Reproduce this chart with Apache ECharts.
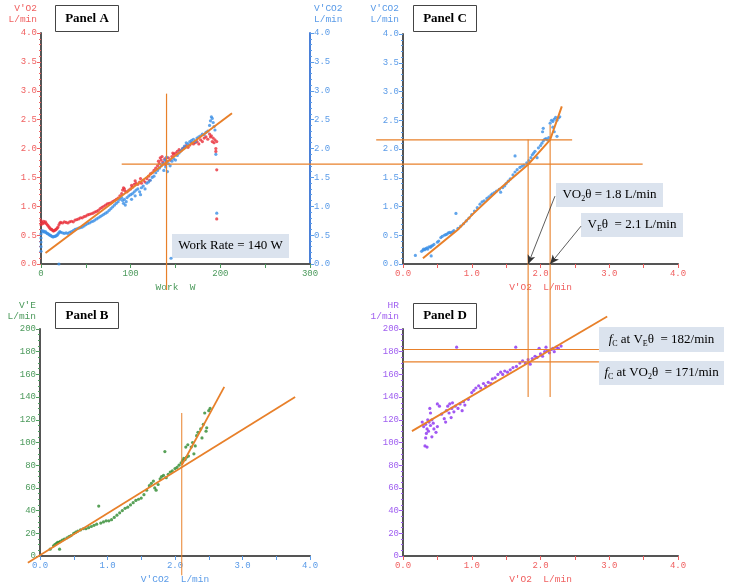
<!DOCTYPE html>
<html><head><meta charset="utf-8">
<script src="https://cdn.jsdelivr.net/npm/echarts@6/dist/echarts.min.js"></script>
<style>html,body{margin:0;padding:0;background:#fff}#c{width:730px;height:587px}</style>
</head><body><div id="c"></div>
<script>
// ---------- Panel A : V'O2 and V'CO2 vs Work rate ----------
const vo2VsWork = [[0,0.75],[0,0.68],[1,0.72],[2,0.7],[3,0.74],[4,0.71],[5,0.73],[6,0.7],[7,0.68],[8,0.66],[9,0.64],[10,0.62],[11,0.6],[12,0.6],[13,0.58],[14,0.57],[15,0.58],[16,0.59],[17,0.6],[18,0.62],[19,0.64],[20,0.68],[21,0.71],[22,0.72],[24,0.71],[26,0.73],[28,0.72],[30,0.71],[32,0.73],[34,0.74],[36,0.73],[38,0.76],[40,0.77],[42,0.78],[44,0.8],[46,0.8],[48,0.82],[50,0.83],[52,0.85],[54,0.86],[56,0.87],[58,0.88],[60,0.9],[62,0.91],[64,0.93],[66,0.96],[68,0.98],[70,1.0],[72,1.02],[74,1.04],[76,1.05],[78,1.06],[80,1.08],[82,1.1],[84,1.12],[86,1.14],[88,1.18],[90,1.22],[91,1.28],[92,1.32],[93,1.3],[94,1.26],[96,1.25],[98,1.28],[100,1.3],[101,1.36],[102,1.33],[104,1.38],[105,1.44],[106,1.4],[108,1.38],[110,1.42],[111,1.48],[112,1.4],[114,1.45],[116,1.42],[118,1.48],[120,1.52],[121,1.45],[122,1.56],[124,1.58],[126,1.62],[128,1.66],[130,1.7],[131,1.78],[132,1.74],[133,1.84],[134,1.8],[135,1.86],[136,1.76],[138,1.82],[139,1.72],[140,1.78],[142,1.84],[144,1.8],[146,1.86],[147,1.92],[148,1.9],[150,1.92],[152,1.95],[154,1.98],[156,1.96],[158,2.0],[160,2.02],[162,2.05],[164,2.02],[166,2.06],[168,2.1],[170,2.08],[172,2.1],[174,2.12],[176,2.08],[178,2.15],[180,2.12],[182,2.18],[184,2.2],[186,2.16],[188,2.25],[189,2.2],[190,2.22],[191,2.12],[192,2.18],[193,2.1],[194,2.15],[195,2.0],[195,1.95],[196,2.12],[196,1.63],[196,0.78]];
const vco2VsWork = [[0,0.22],[0,0.3],[0,0.38],[0,0.45],[0,0.52],[1,0.58],[2,0.56],[3,0.57],[4,0.55],[5,0.56],[6,0.54],[7,0.53],[8,0.52],[9,0.51],[10,0.5],[11,0.49],[12,0.48],[13,0.47],[14,0.47],[15,0.48],[16,0.48],[17,0.49],[18,0.5],[19,0.52],[20,0.54],[21,0.56],[22,0.55],[24,0.54],[26,0.53],[28,0.54],[30,0.53],[32,0.55],[34,0.56],[36,0.58],[38,0.6],[40,0.61],[42,0.62],[44,0.63],[46,0.64],[48,0.66],[50,0.68],[52,0.7],[54,0.71],[56,0.73],[58,0.74],[60,0.76],[62,0.78],[64,0.8],[66,0.82],[68,0.84],[70,0.86],[72,0.88],[74,0.9],[76,0.93],[78,0.96],[80,0.99],[82,1.02],[84,1.05],[86,1.08],[88,1.12],[90,1.15],[91,1.1],[92,1.05],[93,1.12],[94,1.02],[95,1.08],[96,1.15],[98,1.18],[100,1.2],[101,1.12],[102,1.22],[104,1.25],[105,1.18],[106,1.28],[108,1.3],[110,1.25],[111,1.2],[112,1.32],[114,1.35],[116,1.3],[118,1.4],[120,1.42],[122,1.45],[124,1.5],[126,1.52],[128,1.58],[130,1.62],[132,1.66],[134,1.7],[136,1.74],[137,1.62],[138,1.8],[139,1.68],[140,1.85],[141,1.6],[142,1.74],[144,1.7],[146,1.78],[148,1.82],[150,1.8],[152,1.88],[154,1.92],[156,1.96],[158,2.0],[160,2.04],[162,2.1],[164,2.08],[166,2.12],[168,2.14],[170,2.16],[172,2.12],[174,2.18],[176,2.2],[178,2.22],[180,2.25],[182,2.24],[184,2.28],[186,2.3],[188,2.4],[189,2.48],[190,2.55],[191,2.52],[192,2.45],[193,2.38],[194,2.32],[195,1.9],[196,0.88],[20,0.0],[145,0.1]];
const fitA = [[5,0.19],[213,2.61]];

// ---------- Panel C : V'CO2 vs V'O2 ----------
const vco2VsVo2 = [[0.18,0.15],[0.27,0.22],[0.29,0.24],[0.3,0.26],[0.32,0.25],[0.33,0.27],[0.35,0.28],[0.36,0.26],[0.38,0.3],[0.4,0.29],[0.41,0.31],[0.43,0.32],[0.45,0.34],[0.41,0.14],[0.5,0.38],[0.52,0.4],[0.55,0.46],[0.57,0.48],[0.6,0.5],[0.62,0.51],[0.64,0.52],[0.66,0.54],[0.68,0.55],[0.7,0.54],[0.72,0.56],[0.74,0.58],[0.77,0.88],[0.8,0.62],[0.84,0.66],[0.88,0.7],[0.92,0.75],[0.96,0.8],[1.0,0.86],[1.04,0.92],[1.08,0.98],[1.12,1.04],[1.15,1.08],[1.18,1.1],[1.22,1.14],[1.25,1.17],[1.28,1.2],[1.3,1.22],[1.33,1.24],[1.36,1.27],[1.4,1.3],[1.42,1.25],[1.45,1.33],[1.48,1.36],[1.5,1.4],[1.53,1.44],[1.56,1.48],[1.6,1.55],[1.63,1.6],[1.63,1.88],[1.66,1.64],[1.7,1.68],[1.73,1.7],[1.76,1.72],[1.8,1.76],[1.83,1.8],[1.86,1.85],[1.88,1.9],[1.9,1.93],[1.92,1.96],[1.95,1.85],[1.97,2.02],[2.0,2.06],[2.02,2.1],[2.04,2.14],[2.06,2.17],[2.08,2.18],[2.1,2.16],[2.12,2.2],[2.03,2.3],[2.04,2.36],[2.14,2.45],[2.16,2.5],[2.18,2.48],[2.2,2.52],[2.22,2.55],[2.24,2.5],[2.26,2.54],[2.28,2.56],[2.2,2.3],[2.24,2.22],[2.18,2.38]];
const fitC = [[0.29,0.1],[0.8,0.6],[1.0,0.85],[1.4,1.3],[1.82,1.73],[2.14,2.16],[2.31,2.74]];

// ---------- Panel B : V'E vs V'CO2 ----------
const veVsVco2 = [[0.15,6],[0.2,9],[0.22,10],[0.24,11],[0.26,12],[0.28,12],[0.29,6],[0.3,13],[0.33,14],[0.36,15],[0.4,16],[0.43,17],[0.46,18],[0.5,20],[0.53,21],[0.56,22],[0.6,23],[0.64,24],[0.68,24],[0.72,25],[0.76,26],[0.8,27],[0.84,28],[0.87,44],[0.9,29],[0.94,30],[0.98,31],[1.02,31],[1.06,32],[1.1,34],[1.14,36],[1.18,38],[1.22,40],[1.26,42],[1.3,43],[1.34,45],[1.38,47],[1.42,49],[1.46,50],[1.5,51],[1.54,54],[1.58,58],[1.62,62],[1.65,64],[1.68,66],[1.7,60],[1.72,58],[1.75,63],[1.78,68],[1.8,70],[1.83,71],[1.85,92],[1.87,69],[1.9,72],[1.93,74],[1.96,75],[2.0,77],[2.03,78],[2.06,80],[2.09,82],[2.11,84],[2.13,86],[2.15,85],[2.17,87],[2.16,96],[2.19,98],[2.2,88],[2.24,96],[2.26,100],[2.28,90],[2.3,97],[2.32,106],[2.34,109],[2.38,112],[2.42,116],[2.44,126],[2.47,113],[2.5,128],[2.52,130],[2.46,110],[2.4,104]];
const fitB1 = [[-0.18,-6],[3.78,140]];
const fitB2 = [[2.1,80],[2.73,149]];

// ---------- Panel D : HR vs V'O2 ----------
const hrVsVo2 = [[0.3,114],[0.28,118],[0.32,97],[0.35,96],[0.33,104],[0.34,108],[0.35,112],[0.33,116],[0.36,120],[0.38,118],[0.4,115],[0.37,110],[0.42,120],[0.4,126],[0.44,117],[0.45,112],[0.48,109],[0.5,114],[0.39,130],[0.42,105],[0.5,134],[0.53,132],[0.56,125],[0.6,121],[0.62,118],[0.63,128],[0.65,132],[0.67,126],[0.68,134],[0.7,122],[0.71,130],[0.72,135],[0.74,127],[0.76,132],[0.78,184],[0.8,130],[0.83,134],[0.86,128],[0.88,136],[0.9,133],[0.95,138],[1.0,144],[1.03,146],[1.06,148],[1.1,150],[1.13,148],[1.17,152],[1.2,150],[1.24,153],[1.28,152],[1.3,156],[1.34,157],[1.38,160],[1.42,162],[1.45,160],[1.48,163],[1.52,162],[1.56,164],[1.6,166],[1.64,184],[1.65,167],[1.7,170],[1.74,172],[1.78,170],[1.82,173],[1.85,169],[1.88,174],[1.92,176],[1.95,175],[1.98,183],[2.0,178],[2.03,176],[2.06,180],[2.08,184],[2.1,181],[2.13,179],[2.16,182],[2.18,183],[2.2,180],[2.23,184],[2.26,183],[2.3,185]];
const fitD = [[0.13,110],[2.97,211]];

// ---------- thresholds ----------
const workRateTheta = 140;   // W
const vo2Theta = 1.82;       // L/min
const veTheta = 2.14;        // L/min (V'O2)
const vco2AtVo2Theta = 1.73; // L/min
const vco2AtVeTheta = 2.16;  // L/min
const vco2VeBreak = 2.10;    // panel B vertical
const hrAtVeTheta = 182;
const hrAtVo2Theta = 171;

const panelLabels = ['Panel A', 'Panel C', 'Panel B', 'Panel D'];

const RED = '#e8303a', RED_T = '#f06060';
const BLUE = '#3a8ee6', BLUE_T = '#5a9be8';
const GREEN = '#2e8a2e', GREEN_T = '#4c9a5c';
const PURPLE = '#8a2ef0', PURPLE_T = '#a060f0';
const ORANGE = '#e8802a';
const MONO = '"Liberation Mono", "DejaVu Sans Mono", monospace';
const SERIF = '"Liberation Serif", "DejaVu Serif", serif';
const AXIS_DARK = '#555';

function xAx(grid, min, max, interval, minorSplit, color, name, dec) {
  return {
    type: 'value', gridIndex: grid, min, max, interval,
    name, nameLocation: 'middle', nameGap: 18,
    nameTextStyle: {color, fontFamily: MONO, fontSize: 9.5},
    axisLine: {show: true, onZero: false, lineStyle: {color: AXIS_DARK, width: 2}},
    axisTick: {show: true, length: 4, lineStyle: {color}},
    minorTick: {show: true, splitNumber: minorSplit, length: 4, lineStyle: {color}},
    axisLabel: {color, fontFamily: MONO, fontSize: 9, margin: 5,
      formatter: v => v.toFixed(dec)},
    splitLine: {show: false}, minorSplitLine: {show: false}
  };
}
function yAx(grid, min, max, interval, minorSplit, color, name, dec, position, lineColor, gap) {
  const right = position === 'right';
  return {
    type: 'value', gridIndex: grid, min, max, interval, position,
    name, nameLocation: 'end', nameGap: gap,
    nameTextStyle: {color, fontFamily: MONO, fontSize: 9.5, lineHeight: 11,
      align: right ? 'left' : 'right', padding: right ? [0,0,0,4] : [0,4,0,0]},
    axisLine: {show: true, onZero: false, lineStyle: {color: lineColor, width: 2}},
    axisTick: {show: true, length: 4, lineStyle: {color}},
    minorTick: {show: true, splitNumber: minorSplit, length: 2, lineStyle: {color}},
    axisLabel: {color, fontFamily: MONO, fontSize: 9, margin: 4,
      formatter: v => v.toFixed(dec)},
    splitLine: {show: false}, minorSplitLine: {show: false}
  };
}

function scatter(x, y, data, color) {
  return {type: 'scatter', xAxisIndex: x, yAxisIndex: y, data, symbolSize: 3.2,
    itemStyle: {color}, silent: true, animation: false, z: 2};
}
// straight / broken lines drawn through the axes (not clipped to the grid)
function seg(x, y, coords, width, color) {
  return {type: 'lines', coordinateSystem: 'cartesian2d', xAxisIndex: x, yAxisIndex: y,
    polyline: true, clip: false, silent: true, animation: false, z: 3,
    lineStyle: {color: color || ORANGE, width: width || 1.6, opacity: 1},
    data: [{coords}]};
}

const series = [
  scatter(0, 0, vo2VsWork, RED),
  scatter(0, 1, vco2VsWork, BLUE),
  seg(0, 0, fitA, 2),
  seg(0, 0, [[workRateTheta, 2.95], [workRateTheta, -0.45]], 1.2),
  seg(0, 0, [[90, vco2AtVo2Theta], [671, vco2AtVo2Theta]], 1.2),

  scatter(1, 2, vco2VsVo2, BLUE),
  seg(1, 2, fitC, 2),
  seg(1, 2, [[-0.39, vco2AtVeTheta], [2.46, vco2AtVeTheta]], 1.2),
  {type: 'line', xAxisIndex: 1, yAxisIndex: 2, data: [], silent: true, animation: false,
    markLine: {silent: true, animation: false, symbol: ['none', 'arrow'], symbolSize: [6, 9],
      label: {show: false}, lineStyle: {color: '#333', width: 0.8, type: 'solid'},
      data: [[{coord: [2.21, 1.18]}, {coord: [vo2Theta, 0]}],
             [{coord: [2.59, 0.66]}, {coord: [veTheta, 0]}]]}},

  scatter(2, 3, veVsVco2, GREEN),
  seg(2, 3, fitB1, 1.8),
  seg(2, 3, fitB2, 1.8),
  seg(2, 3, [[vco2VeBreak, 126], [vco2VeBreak, -17]], 1),

  scatter(3, 4, hrVsVo2, PURPLE),
  seg(3, 4, fitD, 1.8),
  seg(3, 4, [[vo2Theta, 140], [vo2Theta, 367]], 1.1),
  seg(3, 4, [[veTheta, 140], [veTheta, 380]], 1.1),
  seg(3, 4, [[0, hrAtVeTheta], [2.85, hrAtVeTheta]], 1.1),
  seg(3, 4, [[0, hrAtVo2Theta], [2.85, hrAtVo2Theta]], 1.1)
];

function panelBox(x, y, w, h, text) {
  return {type: 'group', left: x, top: y, z: 100, children: [
    {type: 'rect', shape: {x: 0, y: 0, width: w, height: h},
      style: {fill: '#fff', stroke: '#444', lineWidth: 1}},
    {type: 'text', x: w / 2, y: h / 2, style: {text, fill: '#000',
      font: 'bold 13px ' + SERIF, align: 'center', verticalAlign: 'middle'}}
  ]};
}
const RICH = {
  a: {fontFamily: SERIF, fontSize: 13, color: '#111', lineHeight: 16},
  i: {fontFamily: SERIF, fontSize: 13, color: '#111', fontStyle: 'italic', lineHeight: 16},
  s: {fontFamily: SERIF, fontSize: 8, color: '#111', lineHeight: 8, verticalAlign: 'bottom'}
};
function noteBox(x, y, w, h, text) {
  return {type: 'group', left: x, top: y, z: 100, children: [
    {type: 'rect', shape: {x: 0, y: 0, width: w, height: h}, style: {fill: '#dbe3ee'}},
    {type: 'text', x: w / 2, y: h / 2, style: {text, rich: RICH,
      align: 'center', verticalAlign: 'middle'}}
  ]};
}

const option = {
  backgroundColor: '#fff',
  animation: false,
  grid: [
    {left: 41, top: 33, width: 269, height: 231},
    {left: 403, top: 34, width: 275, height: 230},
    {left: 40, top: 329, width: 270, height: 227},
    {left: 403, top: 329, width: 275, height: 227}
  ],
  xAxis: [
    xAx(0, 0, 300, 100, 2, GREEN_T, 'Work  W', 0),
    xAx(1, 0, 4, 1, 2, RED_T, "V'O2  L/min", 1),
    xAx(2, 0, 4, 1, 2, BLUE_T, "V'CO2  L/min", 1),
    xAx(3, 0, 4, 1, 2, RED_T, "V'O2  L/min", 1)
  ],
  yAxis: [
    yAx(0, 0, 4, 0.5, 5, RED_T, "V'O2\nL/min", 1, 'left', AXIS_DARK, 8),
    yAx(0, 0, 4, 0.5, 5, BLUE_T, "V'CO2\nL/min", 1, 'right', '#4a80d8', 8),
    yAx(1, 0, 4, 0.5, 5, BLUE_T, "V'CO2\nL/min", 1, 'left', AXIS_DARK, 9),
    yAx(2, 0, 200, 20, 4, GREEN_T, "V'E\nL/min", 0, 'left', AXIS_DARK, 7),
    yAx(3, 0, 200, 20, 4, PURPLE_T, "HR\n1/min", 0, 'left', AXIS_DARK, 7)
  ],
  series,
  graphic: [
    panelBox(55, 5, 63, 26, panelLabels[0]),
    panelBox(413, 5, 63, 26, panelLabels[1]),
    panelBox(55, 302, 63, 26, panelLabels[2]),
    panelBox(413, 303, 63, 25, panelLabels[3]),
    noteBox(172, 234, 117, 24, '{a|Work Rate = ' + workRateTheta + ' W}'),
    noteBox(556, 183, 107, 24, '{a|VO}{s|2}{a|θ = 1.8 L/min}'),
    noteBox(581, 213, 102, 24, '{a|V}{s|E}{a|θ  = 2.1 L/min}'),
    noteBox(599, 327, 125, 25, '{i|f}{s|C}{a| at V}{s|E}{a|θ  = ' + hrAtVeTheta + '/min}'),
    noteBox(599, 361, 125, 24, '{i|f}{s|C}{a| at VO}{s|2}{a|θ  = ' + hrAtVo2Theta + '/min}')
  ]
};
const chart = echarts.init(document.getElementById('c'));
chart.setOption(option);
</script></body></html>
